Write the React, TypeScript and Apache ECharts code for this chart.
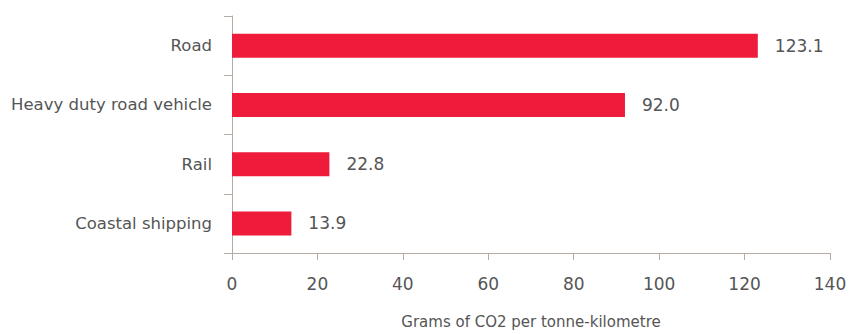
import React, { useEffect, useRef } from "react";
import * as echarts from "echarts";

const categories = ["Coastal shipping", "Rail", "Heavy duty road vehicle", "Road"];
const values = [13.9, 22.8, 92.0, 123.1];
const xTicks = { min: 0, max: 140, interval: 20 };
const axisTitle = "Grams of CO2 per tonne-kilometre";

const AXIS_COLOR = "#b3aba4";
const TEXT_COLOR = "#555555";
const BAR_COLOR = "#ee1c3a";
const FONT = "'DejaVu Sans', 'Liberation Sans', Arial, sans-serif";

export default function App() {
  const ref = useRef<HTMLDivElement>(null);
  useEffect(() => {
    if (!ref.current) return;
    const chart = echarts.init(ref.current, null, { renderer: "svg" });
    chart.setOption({
      animation: false,
      grid: { left: 232, right: 31, top: 16, bottom: 72, containLabel: false },
      xAxis: {
        type: "value",
        min: xTicks.min,
        max: xTicks.max,
        interval: xTicks.interval,
        name: axisTitle,
        nameLocation: "middle",
        nameGap: 61,
        nameTextStyle: { color: TEXT_COLOR, fontSize: 15, fontFamily: FONT },
        axisLine: { show: true, lineStyle: { color: AXIS_COLOR, width: 1 } },
        axisTick: { show: true, length: 7, lineStyle: { color: AXIS_COLOR } },
        axisLabel: { color: TEXT_COLOR, fontSize: 17, fontFamily: FONT, margin: 22 },
        splitLine: { show: false },
      },
      yAxis: {
        type: "category",
        data: categories,
        axisLine: { show: true, lineStyle: { color: AXIS_COLOR, width: 1 } },
        axisTick: { show: true, length: 8, lineStyle: { color: AXIS_COLOR } },
        axisLabel: { color: TEXT_COLOR, fontSize: 16.5, fontFamily: FONT, margin: 20 },
      },
      series: [
        {
          type: "bar",
          data: values,
          barWidth: 24,
          itemStyle: { color: BAR_COLOR },
          label: {
            show: true,
            position: "right",
            distance: 17,
            color: TEXT_COLOR,
            fontSize: 17,
            fontFamily: FONT,
            formatter: (p: any) => Number(p.value).toFixed(1),
          },
        },
      ],
    });
    return () => chart.dispose();
  }, []);
  return <div ref={ref} style={{ width: 861, height: 334, position: "absolute", left: 0, top: 0 }} />;
}
